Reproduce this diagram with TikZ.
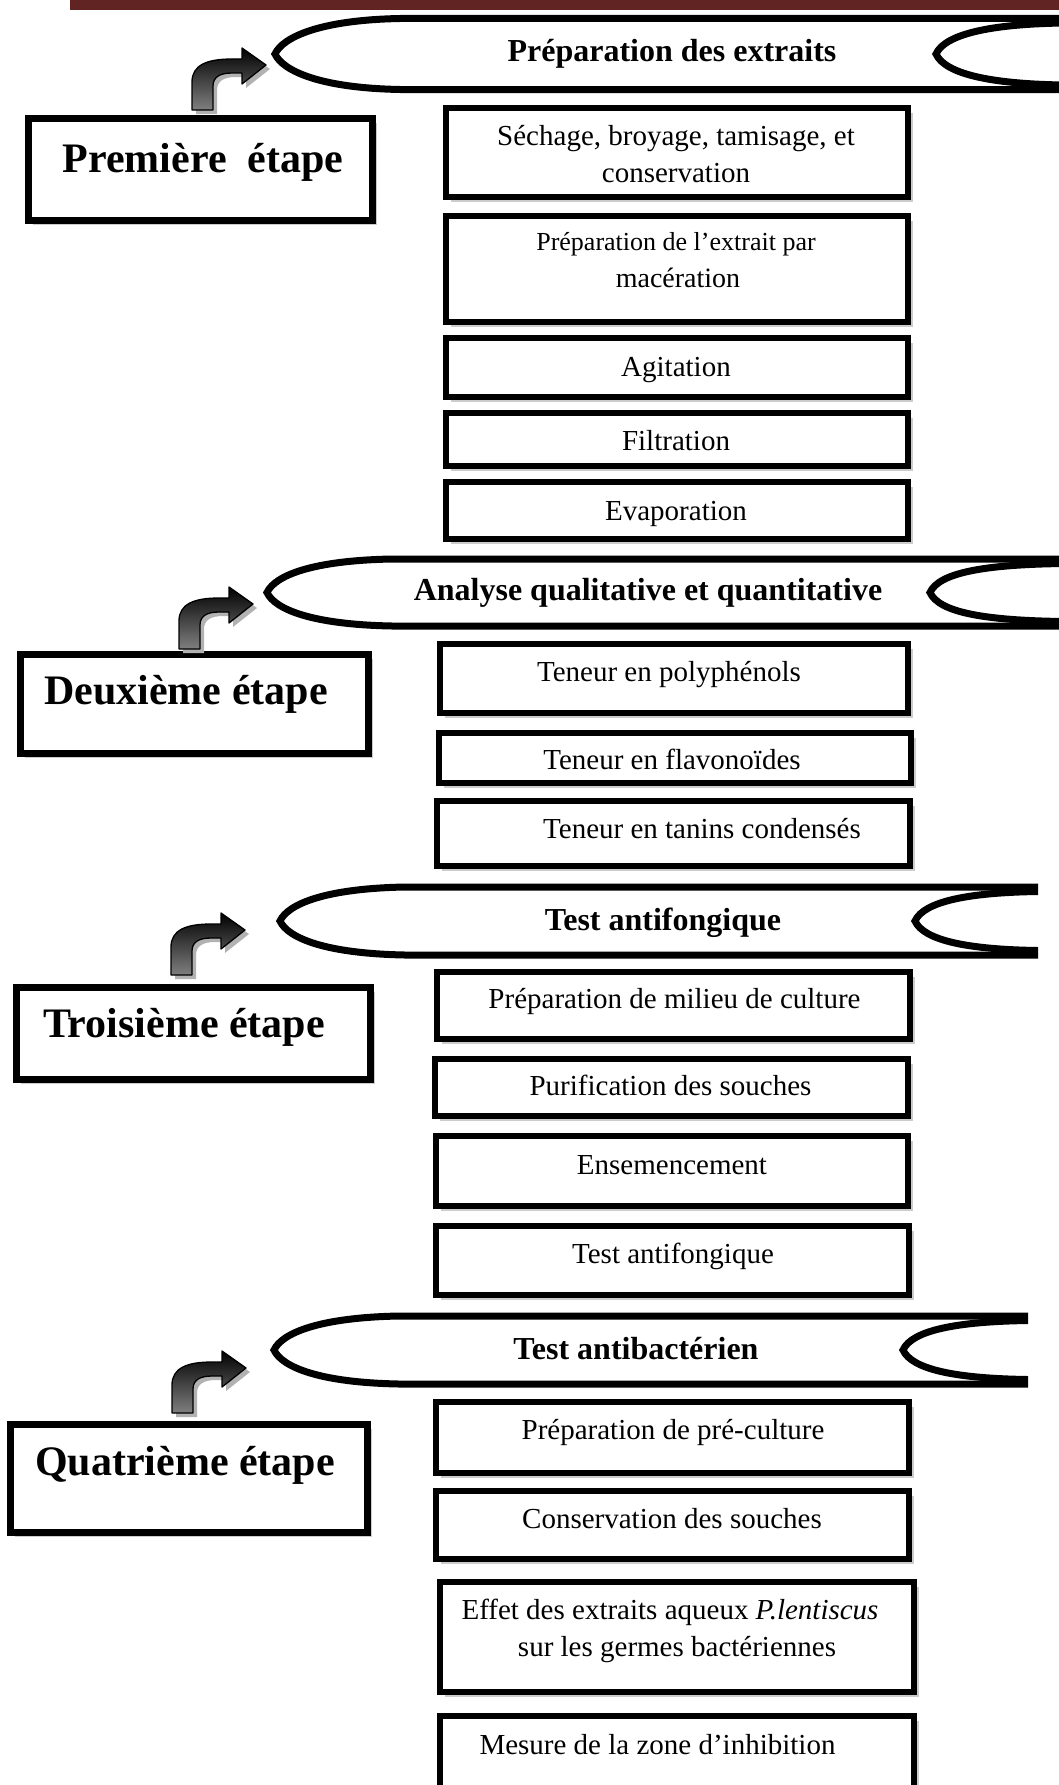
\documentclass[tikz,border=0pt]{standalone}
\usepackage{fontspec}
\setmainfont{Liberation Serif}
\usetikzlibrary{shadows}
\definecolor{barred}{HTML}{622423}
\newcommand\drawbanner[6]{% tip, top, mid, bot, innertip, right
  \draw[line width=7pt, fill=white] (#6,#2) -- (#1+125,#2) .. controls (#1+45,#2+1.5) and (#1+8,#3-17) .. (#1,#3) .. controls (#1+8,#3+17) and (#1+45,#4-1.5) .. (#1+125,#4) -- (#6,#4);
  \draw[line width=7pt] (#6,#2+4.5) .. controls (#5+55,#2+5.5) and (#5+9,#3-20) .. (#5,#3) .. controls (#5+9,#3+20) and (#5+55,#4-5.5) .. (#6,#4-4.5);
}
\tikzset{
  box/.style={draw, line width=6pt, fill=white, inner sep=0pt,
    drop shadow={shadow xshift=4.5pt, shadow yshift=-4.5pt, fill=gray!40, opacity=1}},
  sbox/.style={draw, line width=7pt, fill=white, inner sep=0pt,
    drop shadow={shadow xshift=5pt, shadow yshift=-5pt, fill=gray!40, opacity=1}},
  txt/.style={font=\fontsize{29}{35}\selectfont, anchor=base, inner sep=0pt},
  btxt/.style={font=\fontsize{32}{38}\selectfont\bfseries, anchor=base, inner sep=0pt},
  stxt/.style={font=\fontsize{42}{50}\selectfont\bfseries, anchor=base, inner sep=0pt},
  pics/bentarrow/.style={code={
    \fill[gray!60, shift={(4,4)}] (0,0) -- (0,-28) .. controls (0,-45) and (15,-51) .. (40,-51) -- (50,-51) -- (50,-62) -- (74,-45) -- (50,-26) -- (50,-37) -- (40,-37) .. controls (28,-37) and (21,-33) .. (21,-24) -- (21,0) -- cycle;
    \draw[line width=1.3pt, top color=black, bottom color=black!50, line join=round] (0,0) -- (0,-28) .. controls (0,-45) and (15,-51) .. (40,-51) -- (50,-51) -- (50,-62) -- (74,-45) -- (50,-26) -- (50,-37) -- (40,-37) .. controls (28,-37) and (21,-33) .. (21,-24) -- (21,0) -- cycle;
  }}
}
\begin{document}
\begin{tikzpicture}[x=1pt,y=-1pt]
\useasboundingbox (0,0) rectangle (1059,1785);
\clip (0,0) rectangle (1059,1785);
\fill[white] (0,0) rectangle (1059,1785);
% top bar
\fill[barred] (70,0) rectangle (1059,10);

% banners
\drawbanner{275}{18.5}{54}{89.5}{936}{1064}
\drawbanner{267}{559}{592.5}{626}{930}{1064}
\drawbanner{280}{887}{921}{955}{915}{1038}
\drawbanner{274}{1316}{1350}{1384}{903}{1028}

\node[btxt] (h1) at (672,62) {Préparation des extraits};
\node[btxt] (h2) at (648,600) {Analyse qualitative et quantitative};
\node[btxt] (h3) at (663,930) {Test antifongique};
\node[btxt] (h4) at (636,1359) {Test antibactérien};

% step boxes
\node[sbox, minimum width=344pt, minimum height=102pt] (s1) at (200,169) {};
\node[sbox, minimum width=348pt, minimum height=99pt] (s2) at (194,703.5) {};
\node[sbox, minimum width=354pt, minimum height=92pt] (s3) at (193,1033) {};
\node[sbox, minimum width=357pt, minimum height=108pt] (s4) at (188.5,1478) {};
\node[stxt] (st1) at (203,172) {Première\ \ étape};
\node[stxt] (st2) at (186,704) {Deuxième étape};
\node[stxt] (st3) at (184,1037) {Troisième étape};
\node[stxt] (st4) at (185,1475) {Quatrième étape};

% arrows
\pic (a1) at (192,110) {bentarrow};
\pic (a2) at (179,649) {bentarrow};
\pic (a3) at (171,975) {bentarrow};
\pic (a4) at (172,1413) {bentarrow};

% step 1 boxes
\node[box, minimum width=462pt, minimum height=89pt] (b1) at (677,152.5) {};
\node[box, minimum width=462pt, minimum height=106pt] (b2) at (677,269) {};
\node[box, minimum width=462pt, minimum height=59pt] (b3) at (677,367.5) {};
\node[box, minimum width=462pt, minimum height=53pt] (b4) at (677,439.5) {};
\node[box, minimum width=462pt, minimum height=57pt] (b5) at (677,510.5) {};
% step 2 boxes
\node[box, minimum width=468pt, minimum height=69pt] (b6) at (674,678.5) {};
\node[box, minimum width=472pt, minimum height=50pt] (b7) at (675,758) {};
\node[box, minimum width=473pt, minimum height=65pt] (b8) at (673.5,833.5) {};
% step 3 boxes
\node[box, minimum width=473pt, minimum height=67pt] (b9) at (673.5,1005.5) {};
\node[box, minimum width=473pt, minimum height=57pt] (b10) at (671.5,1087.5) {};
\node[box, minimum width=472pt, minimum height=70pt] (b11) at (672,1171) {};
\node[box, minimum width=473pt, minimum height=69pt] (b12) at (672.5,1260.5) {};
% step 4 boxes
\node[box, minimum width=473pt, minimum height=71pt] (b13) at (672.5,1437.5) {};
\node[box, minimum width=473pt, minimum height=68pt] (b14) at (672.5,1525) {};
\node[box, minimum width=474pt, minimum height=110pt] (b15) at (677,1637) {};
\node[box, minimum width=474pt, minimum height=81pt] (b16) at (677,1756.5) {};

% texts
\node[txt] (t1a) at (676,145) {Séchage, broyage, tamisage, et};
\node[txt] (t1b) at (676,182) {conservation};
\node[txt, font=\fontsize{26}{31}\selectfont] (t2a) at (676,250) {Préparation de l’extrait par};
\node[txt, font=\fontsize{28}{33}\selectfont] (t2b) at (678,287) {macération};
\node[txt] (t3) at (676,376) {Agitation};
\node[txt] (t4) at (676,450) {Filtration};
\node[txt] (t5) at (676,520) {Evaporation};
\node[txt] (t6) at (669,681) {Teneur en polyphénols};
\node[txt] (t7) at (672,769) {Teneur en flavonoïdes};
\node[txt] (t8) at (702,838) {Teneur en tanins condensés};
\node[txt] (t9) at (674.5,1008) {Préparation de milieu de culture};
\node[txt] (t10) at (670.5,1095) {Purification des souches};
\node[txt] (t11) at (672,1174) {Ensemencement};
\node[txt] (t12) at (673,1263) {Test antifongique};
\node[txt] (t13) at (673,1439) {Préparation de pré-culture};
\node[txt] (t14) at (672,1528) {Conservation des souches};
\node[txt] (t15a) at (670,1619) {Effet des extraits aqueux \textit{P.lentiscus}};
\node[txt] (t15b) at (677,1656) {sur les germes bactériennes};
\node[txt] (t16) at (657.5,1754) {Mesure de la zone d’inhibition};
\end{tikzpicture}
\end{document}
